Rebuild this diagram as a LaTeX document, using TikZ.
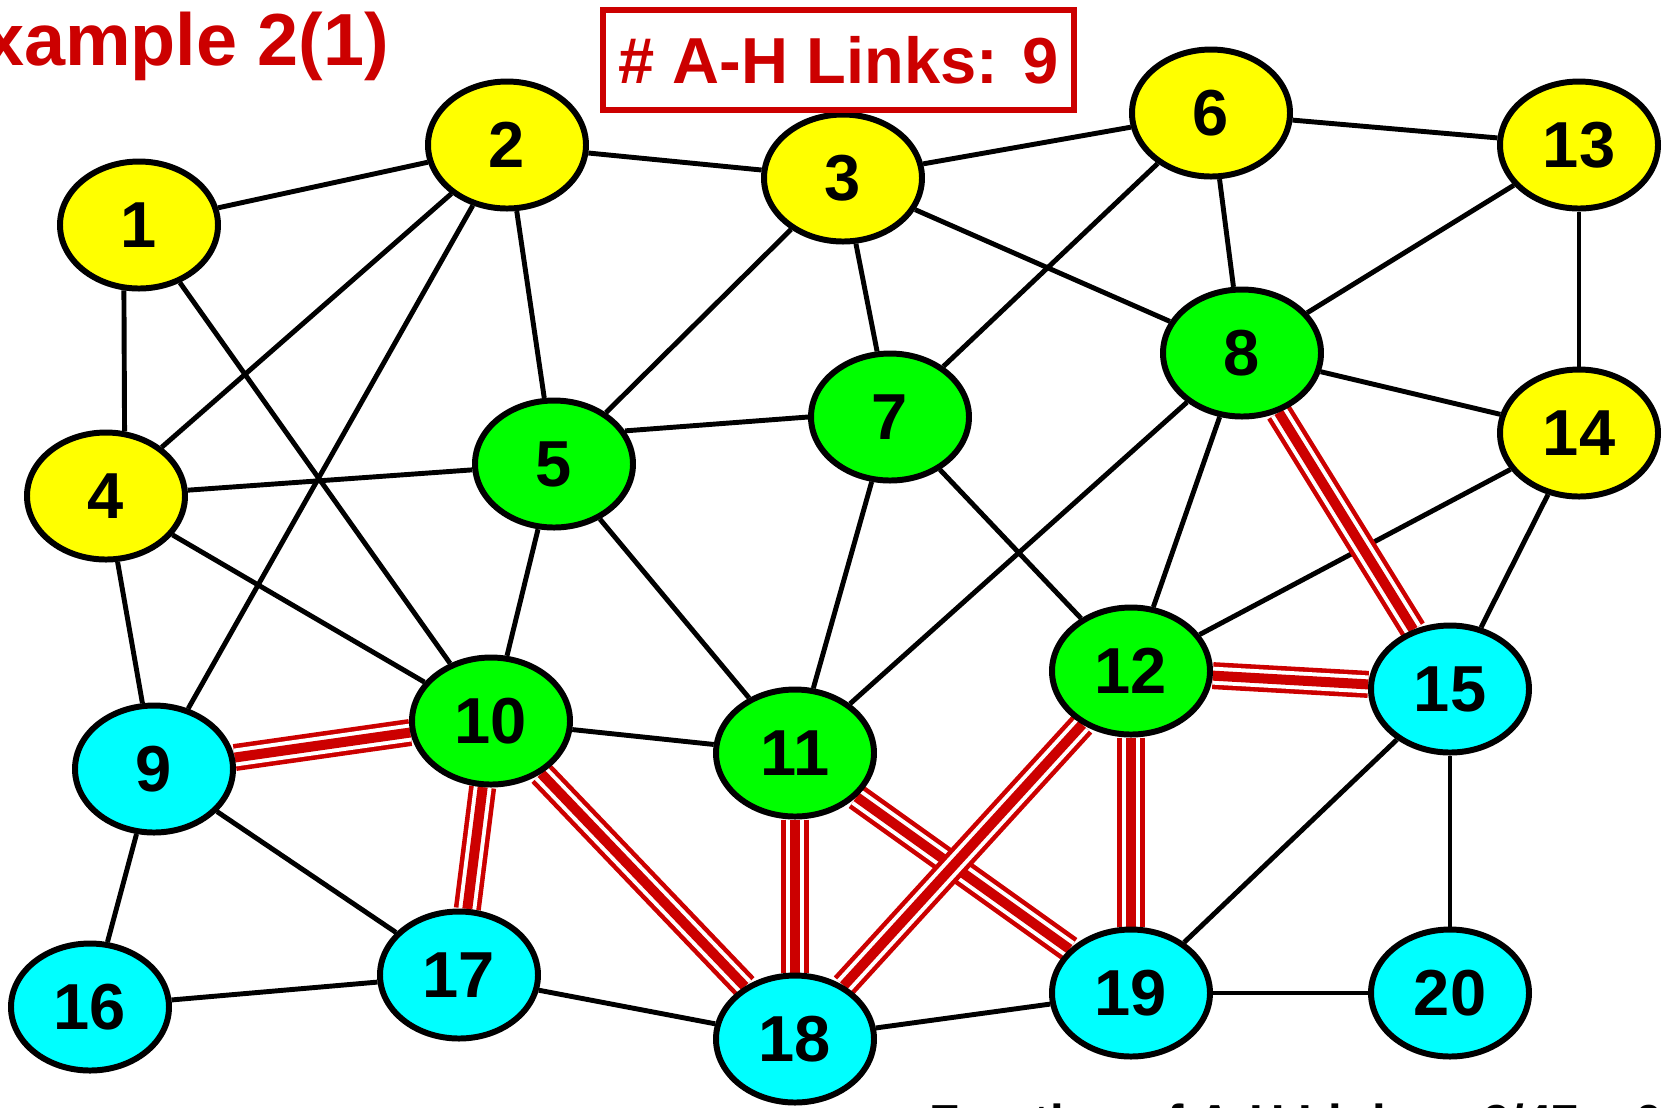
\documentclass[tikz,border=0pt]{standalone}
\usepackage{fontspec}
\setmainfont{Liberation Sans}
\usetikzlibrary{shapes.geometric,backgrounds}
\definecolor{ahred}{RGB}{204,0,0}
\definecolor{vyellow}{RGB}{255,255,0}
\definecolor{vgreen}{RGB}{0,255,0}
\definecolor{vcyan}{RGB}{0,255,255}

\begin{document}
\begin{tikzpicture}[
  vtx/.style={draw, ellipse, line width=1.7pt, minimum width=1.58cm, minimum height=1.27cm, inner sep=0pt, font=\fontsize{18.5}{20}\selectfont\bfseries},
  link/.style={line width=1.4pt},
  ahlink/.style={draw=ahred, line width=7.7pt, postaction={draw=white, line width=5.1pt}, postaction={draw=ahred, line width=2.85pt}},
  ttl/.style={text=ahred, inner sep=0pt, font=\bfseries}
]
\useasboundingbox (0,0) rectangle (16.62,-11.07);

\foreach \i/\x/\y/\c in {1/1.39/-2.25/vyellow,2/5.07/-1.45/vyellow,3/8.43/-1.78/vyellow,4/1.06/-4.96/vyellow,
  5/5.54/-4.64/vgreen,6/12.11/-1.13/vyellow,7/8.90/-4.17/vgreen,8/12.42/-3.53/vgreen,
  9/1.54/-7.69/vcyan,10/4.91/-7.21/vgreen,11/7.95/-7.53/vgreen,12/11.31/-6.71/vgreen,
  13/15.79/-1.45/vyellow,14/15.79/-4.33/vyellow,15/14.50/-6.89/vcyan,16/0.90/-10.07/vcyan,
  17/4.59/-9.75/vcyan,18/7.95/-10.39/vcyan,19/11.31/-9.93/vcyan,20/14.50/-9.93/vcyan} {
  \node[vtx, fill=\c] (n\i) at (\x,\y) {\i};
}

\begin{scope}[on background layer]
\foreach \a/\b in {1/2,1/10,2/3,2/4,2/9,2/5,3/6,3/5,3/7,3/8,4/5,4/9,4/10,5/10,5/11,
  6/13,6/7,6/8,7/11,7/12,8/13,8/14,8/11,8/12,13/14,14/12,14/15,9/16,9/17,10/11,
  16/17,17/18,18/19,19/20,15/19,15/20}
  \draw[link] (n\a) -- (n\b);
\draw[link] (n1.257) -- (n4.74);
\draw[link] (n5.25) -- (n7.180);
% A-H links
\foreach \a/\b in {9/10,10/17,10/18,11/18,11/19,12/18,12/19,12/15,8/15}
  \draw[ahlink] (n\a) -- (n\b);
\end{scope}

\node[ttl, anchor=base east, font=\fontsize{21}{24}\selectfont\bfseries] (title) at (3.90,-0.65) {Example 2(1)};
\node[ttl, draw=ahred, line width=1.7pt, minimum width=4.71cm, minimum height=1.0cm, font=\fontsize{18.5}{20}\selectfont\bfseries] (count) at (8.385,-0.60) {\# A-H Links: 9};
\node[inner sep=0pt, anchor=base west, font=\fontsize{14}{16}\selectfont\bfseries] (frac) at (9.29,-11.39) {Fraction of A-H Links = 9/47 = 0.19};

\end{tikzpicture}
\end{document}
